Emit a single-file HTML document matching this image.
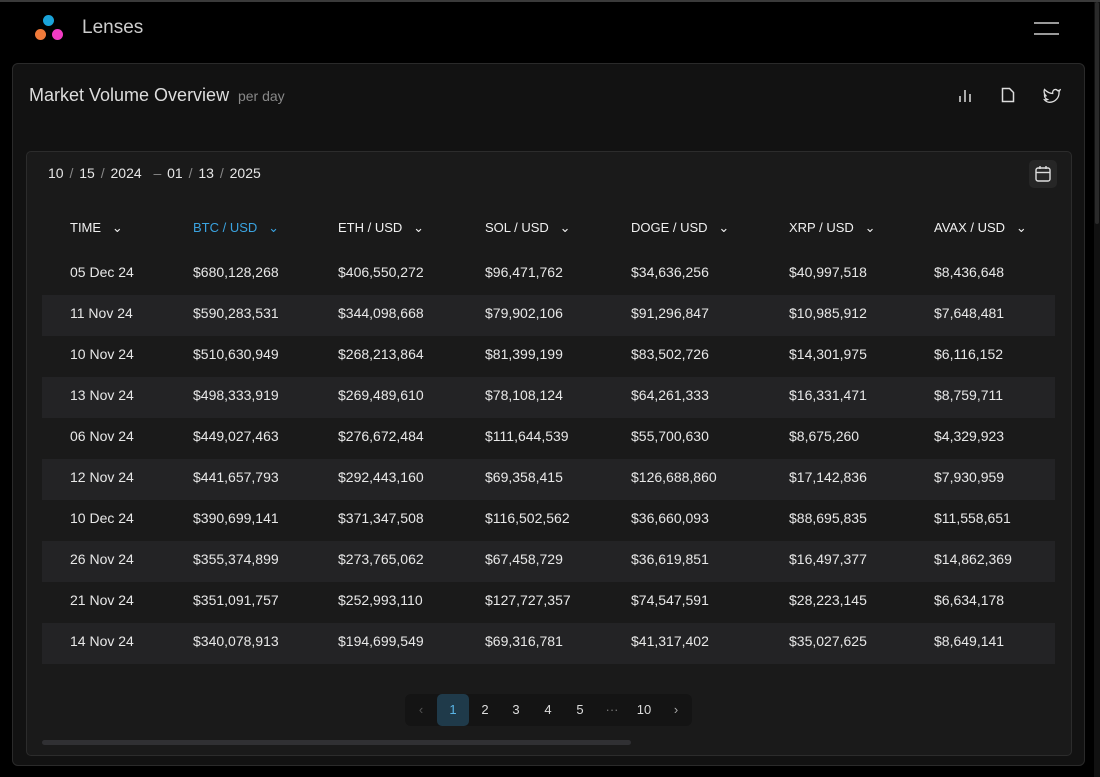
<!DOCTYPE html>
<html><head><style>
*{margin:0;padding:0;box-sizing:border-box}
body{width:1100px;height:777px;background:#000;font-family:"Liberation Sans",sans-serif;color:#e6e6e6;position:relative;overflow:hidden}
.topline{position:absolute;left:0;top:0;width:1100px;height:2px;background:#3a3a3a}
.sb{position:absolute;left:1094px;top:2px;width:6px;height:775px;background:#111}
.sbt{position:absolute;left:1095px;top:2px;width:4px;height:222px;background:#2a2a2a;border-radius:2px}
.abs{position:absolute}
.card{position:absolute;left:12px;top:63px;width:1073px;height:703px;background:#121212;border:1px solid #2a2a2a;border-radius:6px}
.inner{position:absolute;left:26px;top:151px;width:1046px;height:605px;background:#1a1a1a;border:1px solid #2c2c2c;border-radius:5px}
.row{position:absolute;left:42px;width:1013px;height:41px}
.stripe{background:#232325}
.c{position:absolute;font-size:14px;color:#e8e8e8;white-space:nowrap}
.h{position:absolute;font-size:13px;color:#f0f0f0;white-space:nowrap}
.pg{position:absolute;top:694px;width:32px;height:32px;line-height:32px;text-align:center;font-size:13px;color:#ddd}
</style></head><body>
<div class="topline"></div>
<div class="sb"></div><div class="sbt"></div>
<!-- logo -->
<div class="abs" style="left:43px;top:15px;width:11px;height:11px;border-radius:50%;background:#1aa3d9"></div>
<div class="abs" style="left:35px;top:29px;width:11px;height:11px;border-radius:50%;background:#f07a3a"></div>
<div class="abs" style="left:52px;top:29px;width:11px;height:11px;border-radius:50%;background:#f23cc4"></div>
<div class="abs" style="left:82px;top:17px;font-size:19px;color:#ccc">Lenses</div>
<div class="abs" style="left:1034px;top:22px;width:25px;height:2px;background:#999"></div>
<div class="abs" style="left:1034px;top:33px;width:25px;height:2px;background:#999"></div>

<div class="card"></div>
<div class="abs" style="left:29px;top:85px;font-size:18px;color:#ddd">Market Volume Overview <span style="font-size:14px;color:#888">&nbsp;per day</span></div>
<svg class="abs" style="left:958px;top:88px" width="14" height="14"><rect x="1" y="8" width="2" height="6" fill="#aaa"/><rect x="6" y="2" width="2" height="12" fill="#aaa"/><rect x="11" y="6" width="2" height="8" fill="#aaa"/></svg>
<svg class="abs" style="left:1001px;top:87px" width="14" height="16"><path d="M1.5 1.5h7l4 4v9h-11z" fill="none" stroke="#ddd" stroke-width="1.5"/></svg>
<svg class="abs" style="left:1043px;top:88px" width="18" height="15"><path d="M17 2c-1 .5-2 .7-2.5.7C13.5 1 11 1 10 3c-.5 1-.4 2-.3 2.5C6 5.4 3.5 3.5 1.5 1.5 0.5 4 1.5 7 3.5 8 2.5 8 2 8 1.5 7.5c0 2 1.5 3.5 3 4-1 .5-2 .5-3 .3 1 1.5 2.5 2.3 5 2.5 6 0 10-5 9.5-10.5z" fill="none" stroke="#ddd" stroke-width="1.3"/></svg>

<div class="inner"></div>
<div class="abs" style="left:48px;top:165px;font-size:14px;color:#e6e6e6;word-spacing:2px">10 <span style="color:#888">/</span> 15 <span style="color:#888">/</span> 2024 &nbsp;<span style="color:#888">–</span> 01 <span style="color:#888">/</span> 13 <span style="color:#888">/</span> 2025</div>
<div class="abs" style="left:1029px;top:160px;width:28px;height:28px;background:#262626;border-radius:5px"></div>
<svg class="abs" style="left:1035px;top:165px" width="16" height="17"><rect x="1" y="3" width="14" height="13" rx="2" fill="none" stroke="#ddd" stroke-width="1.4"/><line x1="1" y1="7.5" x2="15" y2="7.5" stroke="#ddd" stroke-width="1.4"/><line x1="5" y1="1" x2="5" y2="4" stroke="#ddd" stroke-width="1.4"/><line x1="11" y1="1" x2="11" y2="4" stroke="#ddd" stroke-width="1.4"/></svg>

<!-- header -->
<div class="h" style="left:70px;top:220px">TIME &nbsp;&nbsp;⌄</div>
<div class="h" style="left:193px;top:220px;color:#3aa3e0">BTC / USD &nbsp;&nbsp;⌄</div>
<div class="h" style="left:338px;top:220px">ETH / USD &nbsp;&nbsp;⌄</div>
<div class="h" style="left:485px;top:220px">SOL / USD &nbsp;&nbsp;⌄</div>
<div class="h" style="left:631px;top:220px">DOGE / USD &nbsp;&nbsp;⌄</div>
<div class="h" style="left:789px;top:220px">XRP / USD &nbsp;&nbsp;⌄</div>
<div class="h" style="left:934px;top:220px">AVAX / USD &nbsp;&nbsp;⌄</div>

<div class="row stripe" style="top:295px"></div>
<div class="row stripe" style="top:377px"></div>
<div class="row stripe" style="top:459px"></div>
<div class="row stripe" style="top:541px"></div>
<div class="row stripe" style="top:623px"></div>

<div id="rows"></div>
<script>
var d=[["05 Dec 24","$680,128,268","$406,550,272","$96,471,762","$34,636,256","$40,997,518","$8,436,648"],
["11 Nov 24","$590,283,531","$344,098,668","$79,902,106","$91,296,847","$10,985,912","$7,648,481"],
["10 Nov 24","$510,630,949","$268,213,864","$81,399,199","$83,502,726","$14,301,975","$6,116,152"],
["13 Nov 24","$498,333,919","$269,489,610","$78,108,124","$64,261,333","$16,331,471","$8,759,711"],
["06 Nov 24","$449,027,463","$276,672,484","$111,644,539","$55,700,630","$8,675,260","$4,329,923"],
["12 Nov 24","$441,657,793","$292,443,160","$69,358,415","$126,688,860","$17,142,836","$7,930,959"],
["10 Dec 24","$390,699,141","$371,347,508","$116,502,562","$36,660,093","$88,695,835","$11,558,651"],
["26 Nov 24","$355,374,899","$273,765,062","$67,458,729","$36,619,851","$16,497,377","$14,862,369"],
["21 Nov 24","$351,091,757","$252,993,110","$127,727,357","$74,547,591","$28,223,145","$6,634,178"],
["14 Nov 24","$340,078,913","$194,699,549","$69,316,781","$41,317,402","$35,027,625","$8,649,141"]];
var xs=[70,193,338,485,631,789,934],h="";
d.forEach(function(r,i){r.forEach(function(v,j){h+='<div class="c" style="left:'+xs[j]+'px;top:'+(264+i*41)+'px">'+v+'</div>';});});
document.getElementById('rows').innerHTML=h;
</script>

<div class="abs" style="left:405px;top:694px;width:287px;height:32px;background:#141414;border-radius:6px"></div>
<div class="pg" style="left:405px;color:#555">‹</div>
<div class="pg" style="left:437px;background:#1f3a4a;border-radius:5px;color:#5ab4e6">1</div>
<div class="pg" style="left:469px">2</div>
<div class="pg" style="left:500px">3</div>
<div class="pg" style="left:532px">4</div>
<div class="pg" style="left:564px">5</div>
<div class="pg" style="left:596px;color:#777">···</div>
<div class="pg" style="left:628px">10</div>
<div class="pg" style="left:660px;color:#aaa">›</div>
<div class="abs" style="left:42px;top:740px;width:589px;height:5px;background:#303033;border-radius:3px"></div>
</body></html>
